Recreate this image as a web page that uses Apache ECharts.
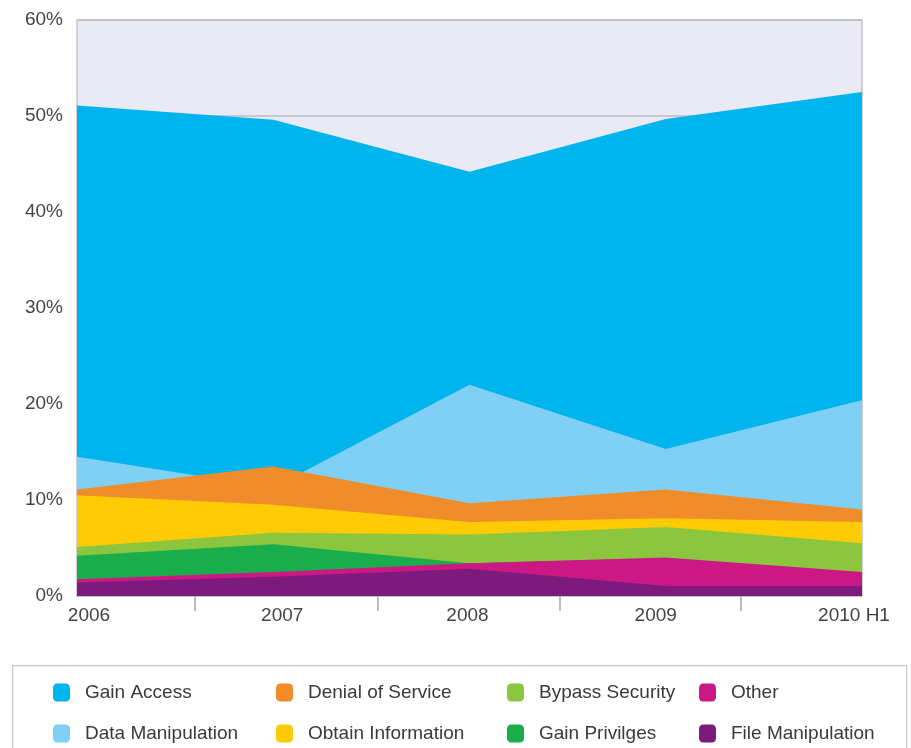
<!DOCTYPE html>
<html>
<head>
<meta charset="utf-8">
<script src="https://cdn.jsdelivr.net/npm/echarts@6/dist/echarts.min.js"></script>
<style>
html,body{margin:0;padding:0;background:#fff;}
#chart{width:911px;height:748px;}
</style>
</head>
<body>
<div id="chart"></div>
<script>
// Categories (x axis)
const categories = ['2006', '2007', '2008', '2009', '2010 H1'];
// Y tick values
const yTicks = [0, 10, 20, 30, 40, 50, 60];
// Top edge of each layer (cumulative %)
const gainAccess        = [51.1, 49.6, 44.2, 49.7, 52.5];
const dataManipulation  = [14.5, 11.3, 22.0, 15.3, 20.4];
const denialOfService   = [11.1, 13.5, 9.65, 11.1, 9.0];
const obtainInformation = [10.5, 9.5, 7.7, 8.1, 7.7];
const bypassSecurity    = [5.1, 6.6, 6.4, 7.2, 5.5];
const gainPrivileges    = [4.2, 5.4, 3.4, 3.9, 2.4];
const other             = [1.75, 2.5, 3.4, 4.0, 2.5];
const fileManipulation  = [1.4, 2.0, 2.85, 1.04, 1.04];
// positions of the x-axis tick marks (in category units)
const xTickMarks = [0.60, 1.53, 2.46, 3.38];

const layers = [
  {name: 'Gain Access', data: gainAccess, color: '#00b4ee'},
  {name: 'Data Manipulation', data: dataManipulation, color: '#80d0f5'},
  {name: 'Denial of Service', data: denialOfService, color: '#f08c2a'},
  {name: 'Obtain Information', data: obtainInformation, color: '#ffcb05'},
  {name: 'Bypass Security', data: bypassSecurity, color: '#8cc63f'},
  {name: 'Gain Privilges', data: gainPrivileges, color: '#19ae4b'},
  {name: 'Other', data: other, color: '#cc1885'},
  {name: 'File Manipulation', data: fileManipulation, color: '#7d1a7d'}
];

const FONT = 'Liberation Sans, Arial, sans-serif';
const FS = 19;
const chart = echarts.init(document.getElementById('chart'));

const legendCols = [
  {left: 48, names: ['Gain Access', 'Data Manipulation']},
  {left: 271, names: ['Denial of Service', 'Obtain Information']},
  {left: 502, names: ['Bypass Security', 'Gain Privilges']},
  {left: 694, names: ['Other', 'File Manipulation']}
];

// per-label horizontal padding [left, right] to nudge x labels
const labelPads = [[24, 0], [18, 0], [0, 4], [0, 20], [0, 16]];
const rich = {};
labelPads.forEach((p, i) => {
  rich['s' + i] = {fontFamily: FONT, fontSize: FS, color: '#444', padding: [0, p[1], 0, p[0]]};
});

chart.setOption({
  animation: false,
  backgroundColor: '#ffffff',
  grid: {
    left: 77, right: 49, top: 20, bottom: 152,
    show: true, backgroundColor: '#e9eaf6', borderColor: '#c4c4c8', borderWidth: 1.5
  },
  graphic: [{
    type: 'rect', left: 12, top: 665, z: -10,
    shape: {width: 894, height: 100},
    style: {fill: '#fff', stroke: '#c8c8c8', lineWidth: 1.2}
  }],
  legend: legendCols.map(c => ({
    left: c.left, top: 678, orient: 'vertical', itemGap: 22,
    itemWidth: 17, itemHeight: 18, icon: 'roundRect',
    data: c.names, selectedMode: false,
    textStyle: {fontFamily: FONT, fontSize: FS, color: '#3a3a3a', padding: [0, 0, 0, 10]}
  })),
  xAxis: [{
    type: 'category', data: categories, boundaryGap: false,
    axisLine: {show: true, lineStyle: {color: '#c4c4c8', width: 1.5}},
    axisTick: {show: false},
    axisLabel: {interval: 0, margin: 10, formatter: (v, i) => '{s' + i + '|' + v + '}', rich: rich},
    splitLine: {show: false}
  }, {
    type: 'value', min: 0, max: categories.length - 1, position: 'bottom',
    axisLine: {show: false},
    axisLabel: {show: false},
    splitLine: {show: false},
    axisTick: {show: true, inside: false, length: 15, customValues: xTickMarks,
      lineStyle: {color: '#a8a8a8', width: 1.5}}
  }],
  yAxis: {
    type: 'value', min: yTicks[0], max: yTicks[yTicks.length - 1], interval: 10,
    axisLine: {show: false}, axisTick: {show: false},
    axisLabel: {formatter: '{value}%', fontFamily: FONT, fontSize: FS, color: '#444', margin: 14},
    splitLine: {show: true, lineStyle: {color: '#bdbdc2', width: 1.5}}
  },
  series: layers.map(l => ({
    name: l.name, type: 'line', data: l.data, xAxisIndex: 0,
    symbol: 'none', showSymbol: false,
    lineStyle: {width: 0},
    itemStyle: {color: l.color},
    areaStyle: {color: l.color, opacity: 1}
  }))
});
</script>
</body>
</html>
